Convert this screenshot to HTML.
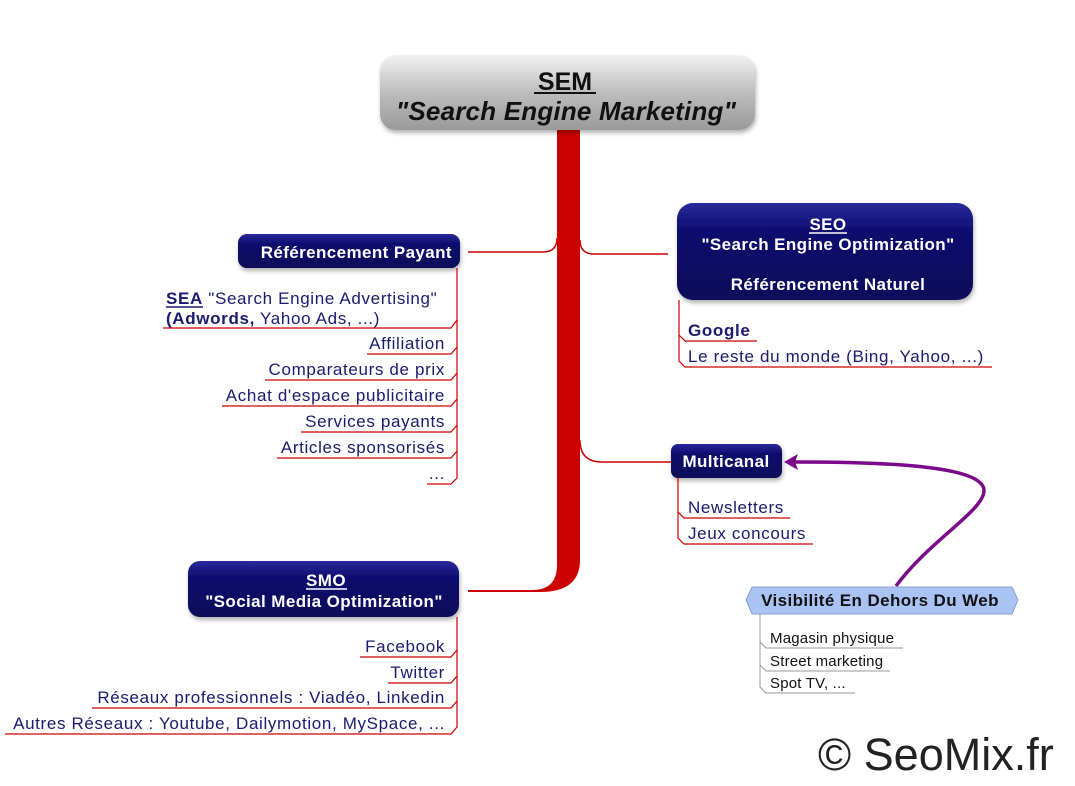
<!DOCTYPE html>
<html><head><meta charset="utf-8"><style>
html,body{margin:0;padding:0;background:#fff;}
svg{display:block;font-family:"Liberation Sans",Arial,sans-serif;}
.it{font-size:17px;fill:#1a1a6e;letter-spacing:0.65px;}
.bx{font-size:17px;fill:#fff;font-weight:bold;letter-spacing:0.4px;}
.gl{fill:#111;font-size:15px;letter-spacing:0.2px;}
</style></head><body>
<svg width="1075" height="786" viewBox="0 0 1075 786" xmlns="http://www.w3.org/2000/svg">
<defs>
<linearGradient id="gr" x1="0" y1="0" x2="0" y2="1">
<stop offset="0" stop-color="#f2f2f2"/><stop offset="0.5" stop-color="#bdbdbd"/><stop offset="1" stop-color="#9a9a9a"/></linearGradient>
<linearGradient id="nv" x1="0" y1="0" x2="0" y2="1">
<stop offset="0" stop-color="#2a2a9a"/><stop offset="0.3" stop-color="#0c0c6e"/><stop offset="1" stop-color="#07075a"/></linearGradient>
<filter id="sh" x="-10%" y="-20%" width="120%" height="150%"><feDropShadow dx="1" dy="3" stdDeviation="2" flood-color="#000" flood-opacity="0.3"/></filter>
</defs>

<path d="M557 130 V565 Q557 590 532 590 H468 L468 592 H540 Q580 592 580 560 V130 Z" fill="#cc0000"/>
<path d="M557 238 Q557 252 543 252 H468" stroke="#cc0000" stroke-width="1.5" fill="none"/>
<path d="M580 240 Q580 254 594 254 H668" stroke="#cc0000" stroke-width="1.5" fill="none"/>
<path d="M580 440 Q580 462 602 462 H671" stroke="#cc0000" stroke-width="1.5" fill="none"/>

<rect x="380" y="55" width="375" height="75" rx="16" fill="url(#gr)" filter="url(#sh)"/>
<text x="565" y="90" text-anchor="middle" font-size="25" font-weight="bold" fill="#111">SEM</text>
<line x1="534" y1="93" x2="596" y2="93" stroke="#111" stroke-width="2"/>
<text x="566" y="120" text-anchor="middle" font-size="26" font-weight="bold" font-style="italic" fill="#111" letter-spacing="0.2">"Search Engine Marketing"</text>

<rect x="238" y="234" width="222" height="34" rx="9" fill="url(#nv)" filter="url(#sh)"/>
<text x="452" y="258" text-anchor="end" class="bx">Référencement Payant</text>
<g stroke="#cc0000" stroke-width="1.2" fill="none">
<path d="M457 268 V478 L451 484"/>
<path d="M457 320 L451 328 H163"/>
<path d="M457 347 L451 354 H367"/>
<path d="M457 373 L451 380 H265"/>
<path d="M457 399 L451 406 H222"/>
<path d="M457 425 L451 432 H301"/>
<path d="M457 451 L451 458 H277"/>
<path d="M451 484 H427"/>
</g>
<text x="166" y="304" class="it"><tspan font-weight="bold">SEA</tspan> "Search Engine Advertising"</text>
<line x1="166" y1="307" x2="203" y2="307" stroke="#1a1a6e" stroke-width="1.5"/>
<text x="166" y="324" class="it"><tspan font-weight="bold">(Adwords,</tspan> Yahoo Ads, ...)</text>
<text x="445" y="349" text-anchor="end" class="it">Affiliation</text>
<text x="445" y="375" text-anchor="end" class="it">Comparateurs de prix</text>
<text x="445" y="401" text-anchor="end" class="it">Achat d'espace publicitaire</text>
<text x="445" y="427" text-anchor="end" class="it">Services payants</text>
<text x="445" y="453" text-anchor="end" class="it">Articles sponsorisés</text>
<text x="445" y="479" text-anchor="end" class="it">...</text>

<rect x="677" y="203" width="296" height="97" rx="16" fill="url(#nv)" filter="url(#sh)"/>
<text x="828" y="230" text-anchor="middle" class="bx">SEO</text>
<line x1="809" y1="233" x2="847" y2="233" stroke="#fff" stroke-width="1.5"/>
<text x="828" y="250" text-anchor="middle" class="bx">"Search Engine Optimization"</text>
<text x="828" y="290" text-anchor="middle" class="bx">Référencement Naturel</text>
<g stroke="#cc0000" stroke-width="1.2" fill="none">
<path d="M679 300 V335 L685 341 H757"/>
<path d="M679 335 V361 L685 367 H992"/>
</g>
<text x="688" y="336" class="it" font-weight="bold">Google</text>
<text x="688" y="362" class="it">Le reste du monde (Bing, Yahoo, ...)</text>

<rect x="671" y="444" width="111" height="34" rx="7" fill="url(#nv)" filter="url(#sh)"/>
<text x="726" y="467" text-anchor="middle" class="bx">Multicanal</text>
<g stroke="#cc0000" stroke-width="1.2" fill="none">
<path d="M678 478 V512 L684 518 H790"/>
<path d="M678 512 V538 L684 544 H813"/>
</g>
<text x="688" y="513" class="it">Newsletters</text>
<text x="688" y="539" class="it">Jeux concours</text>

<path d="M896 586 C930 540 985 510 984 490 C982 465 880 462 795 462" stroke="#7a0a8a" stroke-width="3.5" fill="none"/>
<path d="M784 462 L798 454 L795 462 L798 470 Z" fill="#7a0a8a"/>

<rect x="188" y="561" width="271" height="56" rx="12" fill="url(#nv)" filter="url(#sh)"/>
<text x="326" y="586" text-anchor="middle" class="bx">SMO</text>
<line x1="306" y1="589" x2="347" y2="589" stroke="#fff" stroke-width="1.5"/>
<text x="324" y="607" text-anchor="middle" class="bx">"Social Media Optimization"</text>
<g stroke="#cc0000" stroke-width="1.2" fill="none">
<path d="M457 617 V727 L451 734 H5"/>
<path d="M457 650 L451 657 H360"/>
<path d="M457 676 L451 683 H388"/>
<path d="M457 701 L451 708 H92"/>
</g>
<text x="445" y="652" text-anchor="end" class="it">Facebook</text>
<text x="445" y="678" text-anchor="end" class="it">Twitter</text>
<text x="445" y="703" text-anchor="end" class="it">Réseaux professionnels : Viadéo, Linkedin</text>
<text x="445" y="729" text-anchor="end" class="it">Autres Réseaux : Youtube, Dailymotion, MySpace, ...</text>

<path d="M752 587 H1012 L1018 600 L1012 614 H752 L746 600 Z" fill="#a9c3f5" stroke="#8aa0cc"/>
<text x="880" y="606" text-anchor="middle" font-size="17" font-weight="bold" fill="#111" letter-spacing="0.4">Visibilité En Dehors Du Web</text>
<g stroke="#999" stroke-width="1" fill="none">
<path d="M760 614 V642 L766 648 H903"/>
<path d="M760 642 V665 L766 671 H890"/>
<path d="M760 665 V687 L766 693 H855"/>
</g>
<text x="770" y="643" class="gl">Magasin physique</text>
<text x="770" y="666" class="gl">Street marketing</text>
<text x="770" y="688" class="gl">Spot TV, ...</text>

<text x="818" y="770" font-size="45" fill="#222">© SeoMix.fr</text>
</svg>
</body></html>
